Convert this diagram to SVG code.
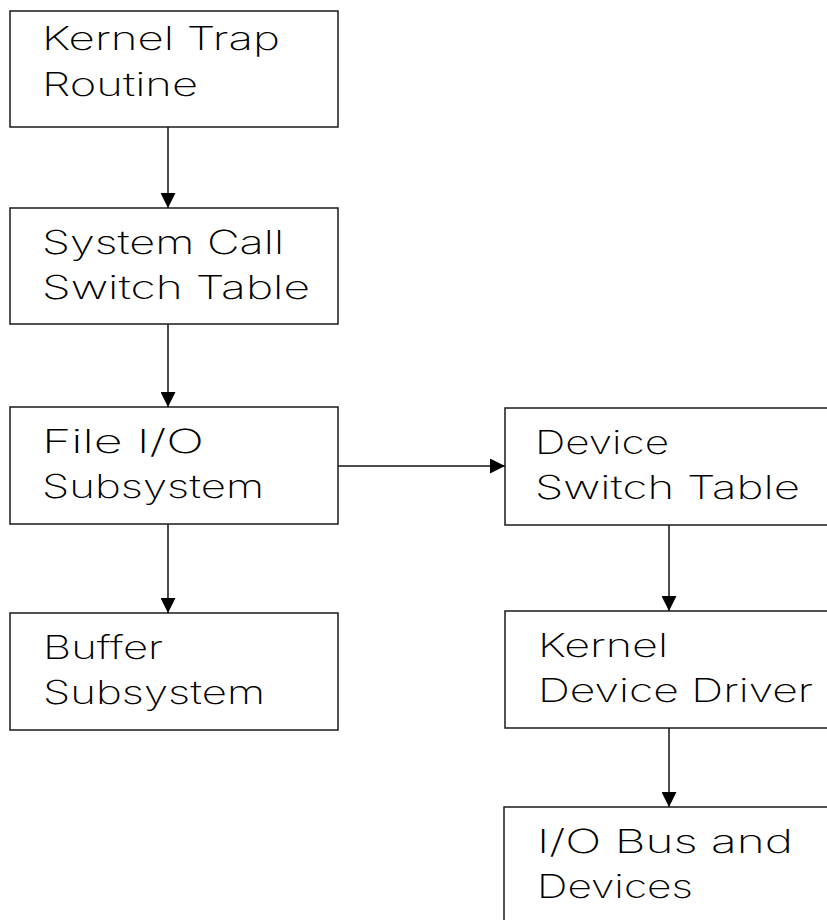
<svg xmlns="http://www.w3.org/2000/svg" width="827" height="920" viewBox="0 0 827 920">
  <style>
    .box { fill: #ffffff; stroke: #1a1a1a; stroke-width: 1.5; }
    .lbl { font-family: Inter, "DejaVu Sans", "Liberation Sans", sans-serif; font-weight: 200; font-size: 33px; fill: #000000; }
    .wire { stroke: #111111; stroke-width: 1.5; fill: none; }
  </style>
  <defs>
    <marker id="tri" viewBox="0 0 15 15" refX="15" refY="7.5" markerWidth="15" markerHeight="15" markerUnits="userSpaceOnUse" orient="auto">
      <path d="M0,0 L15,7.5 L0,15 Z" fill="#000000"/>
    </marker>
  </defs>
  <rect width="827" height="920" fill="#ffffff"/>

  <g id="connectors">
    <line class="wire" x1="168" y1="127" x2="168" y2="208" marker-end="url(#tri)"/>
    <line class="wire" x1="168" y1="324" x2="168" y2="407" marker-end="url(#tri)"/>
    <line class="wire" x1="168" y1="524" x2="168" y2="613" marker-end="url(#tri)"/>
    <line class="wire" x1="338" y1="466" x2="505" y2="466" marker-end="url(#tri)"/>
    <line class="wire" x1="669" y1="525" x2="669" y2="611" marker-end="url(#tri)"/>
    <line class="wire" x1="669" y1="728" x2="669" y2="807" marker-end="url(#tri)"/>
  </g>

  <g id="kernel-trap-routine">
    <rect class="box" x="10" y="11" width="328" height="116"/>
    <text class="lbl" x="42" y="50" textLength="238" lengthAdjust="spacingAndGlyphs">Kernel Trap</text>
    <text class="lbl" x="42" y="96" textLength="156" lengthAdjust="spacingAndGlyphs">Routine</text>
  </g>

  <g id="system-call-switch-table">
    <rect class="box" x="10" y="208" width="328" height="116"/>
    <text class="lbl" x="42" y="254" textLength="242" lengthAdjust="spacingAndGlyphs">System Call</text>
    <text class="lbl" x="42" y="299" textLength="268" lengthAdjust="spacingAndGlyphs">Switch Table</text>
  </g>

  <g id="file-io-subsystem">
    <rect class="box" x="10" y="407" width="328" height="117"/>
    <text class="lbl" x="42" y="453" textLength="162" lengthAdjust="spacingAndGlyphs">File I/O</text>
    <text class="lbl" x="42" y="498" textLength="222" lengthAdjust="spacingAndGlyphs">Subsystem</text>
  </g>

  <g id="buffer-subsystem">
    <rect class="box" x="10" y="613" width="328" height="117"/>
    <text class="lbl" x="43" y="659" textLength="120" lengthAdjust="spacingAndGlyphs">Buffer</text>
    <text class="lbl" x="43" y="704" textLength="222" lengthAdjust="spacingAndGlyphs">Subsystem</text>
  </g>

  <g id="device-switch-table">
    <rect class="box" x="505" y="408" width="328" height="117"/>
    <text class="lbl" x="535" y="454" textLength="134" lengthAdjust="spacingAndGlyphs">Device</text>
    <text class="lbl" x="535" y="499" textLength="265" lengthAdjust="spacingAndGlyphs">Switch Table</text>
  </g>

  <g id="kernel-device-driver">
    <rect class="box" x="505" y="611" width="328" height="117"/>
    <text class="lbl" x="538" y="657" textLength="130" lengthAdjust="spacingAndGlyphs">Kernel</text>
    <text class="lbl" x="538" y="702" textLength="275" lengthAdjust="spacingAndGlyphs">Device Driver</text>
  </g>

  <g id="io-bus-and-devices">
    <rect class="box" x="504" y="807" width="328" height="125"/>
    <text class="lbl" x="537" y="853" textLength="256" lengthAdjust="spacingAndGlyphs">I/O Bus and</text>
    <text class="lbl" x="537" y="898" textLength="156" lengthAdjust="spacingAndGlyphs">Devices</text>
  </g>
</svg>
